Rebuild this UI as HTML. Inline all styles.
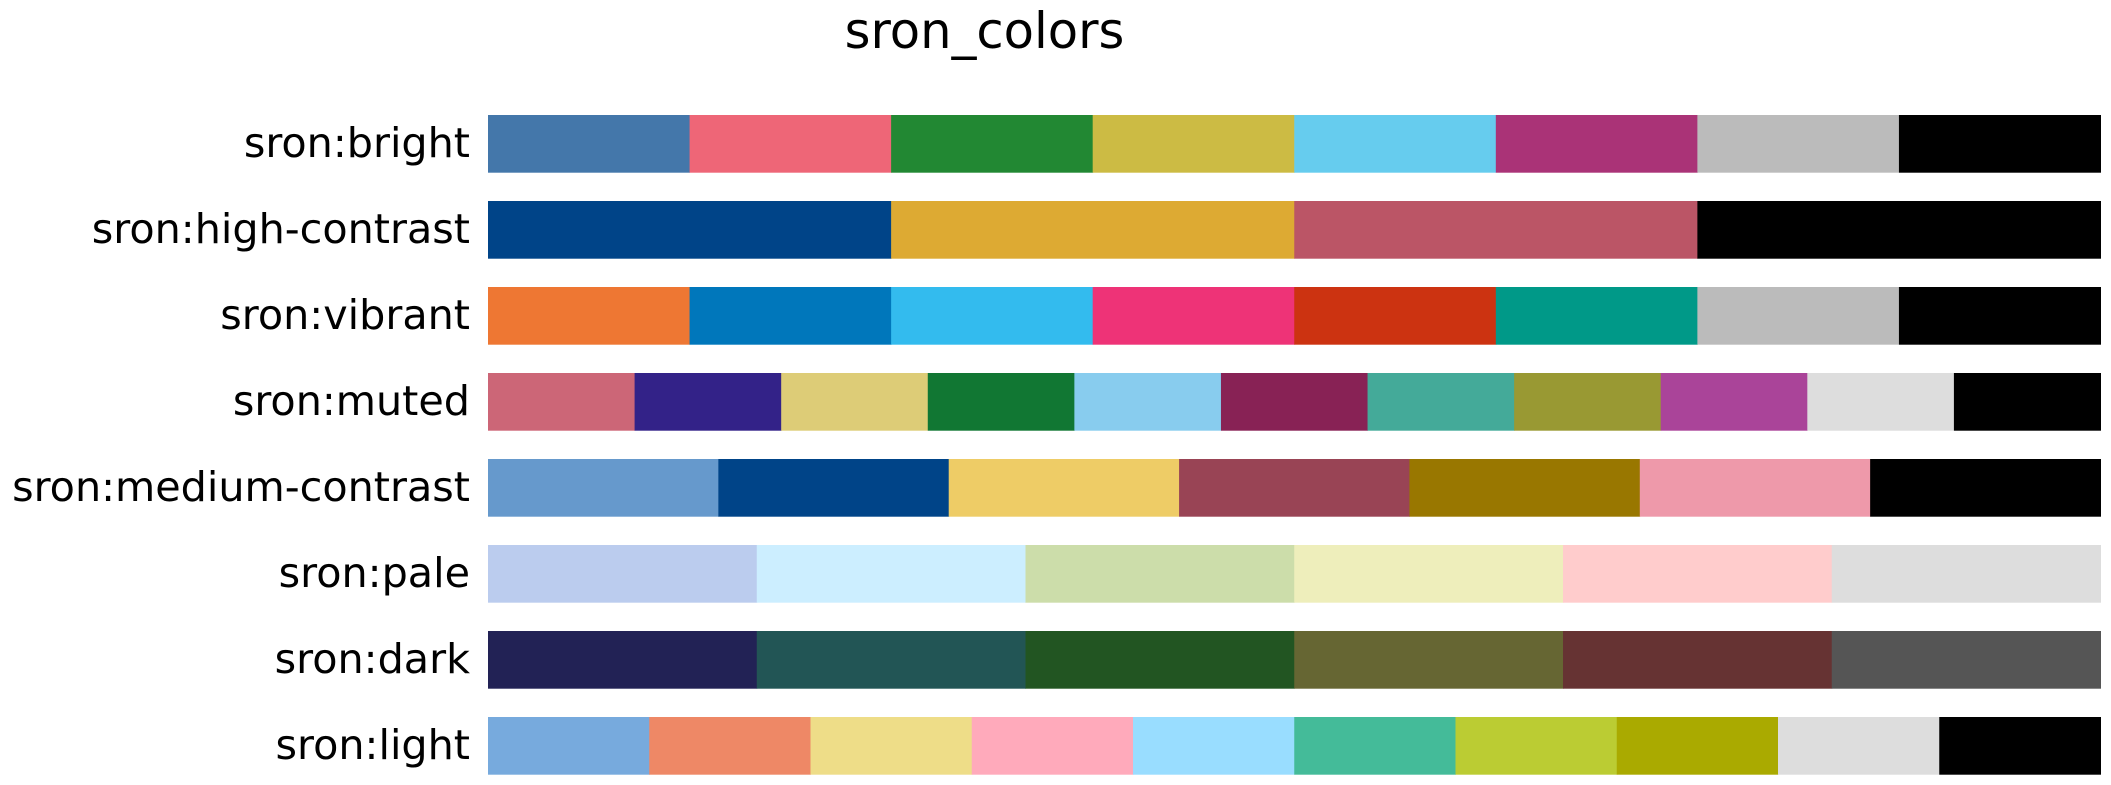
<!DOCTYPE html>
<html><head><meta charset="utf-8"><style>
html,body{margin:0;padding:0;background:#fff;}
svg{display:block;font-family:"DejaVu Sans","Liberation Sans",sans-serif;}
</style></head><body>
<svg id="chart" width="2111" height="785" viewBox="0 0 2111 785">
<text x="984.5" y="48" font-size="49.6" text-anchor="middle" fill="#000">sron_colors</text>
<g id="rows"></g>
</svg>
<script>
const paletteNames = ["sron:bright","sron:high-contrast","sron:vibrant","sron:muted","sron:medium-contrast","sron:pale","sron:dark","sron:light"];
const bright = ["#4477AA","#EE6677","#228833","#CCBB44","#66CCEE","#AA3377","#BBBBBB","#000000"];
const highContrast = ["#004488","#DDAA33","#BB5566","#000000"];
const vibrant = ["#EE7733","#0077BB","#33BBEE","#EE3377","#CC3311","#009988","#BBBBBB","#000000"];
const muted = ["#CC6677","#332288","#DDCC77","#117733","#88CCEE","#882255","#44AA99","#999933","#AA4499","#DDDDDD","#000000"];
const mediumContrast = ["#6699CC","#004488","#EECC66","#994455","#997700","#EE99AA","#000000"];
const pale = ["#BBCCEE","#CCEEFF","#CCDDAA","#EEEEBB","#FFCCCC","#DDDDDD"];
const dark = ["#222255","#225555","#225522","#666633","#663333","#555555"];
const light = ["#77AADD","#EE8866","#EEDD88","#FFAABB","#99DDFF","#44BB99","#BBCC33","#AAAA00","#DDDDDD","#000000"];
const palettes = [bright, highContrast, vibrant, muted, mediumContrast, pale, dark, light];

const NS = "http://www.w3.org/2000/svg";
const x0 = 488, x1 = 2100.5, y0 = 115, pitch = 86, barH = 57.7;
function xScale(frac){ return x0 + frac*(x1-x0); }
function yScale(i){ return y0 + i*pitch; }
const g = document.getElementById("rows");
paletteNames.forEach((name,i)=>{
  const cols = palettes[i];
  const y = yScale(i);
  const t = document.createElementNS(NS,"text");
  t.setAttribute("x", 470);
  t.setAttribute("y", y + barH/2 + 13);
  t.setAttribute("font-size", "41.3");
  t.setAttribute("text-anchor", "end");
  t.textContent = name;
  
  
  g.appendChild(t);
  cols.forEach((c,j)=>{
    const r = document.createElementNS(NS,"rect");
    const xa = xScale(j/cols.length), xb = xScale((j+1)/cols.length);
    r.setAttribute("x", xa);
    r.setAttribute("y", y);
    r.setAttribute("width", xb-xa+0.5);
    r.setAttribute("height", barH);
    r.setAttribute("fill", c);
    
    
    g.appendChild(r);
  });
});
</script>
</body></html>
